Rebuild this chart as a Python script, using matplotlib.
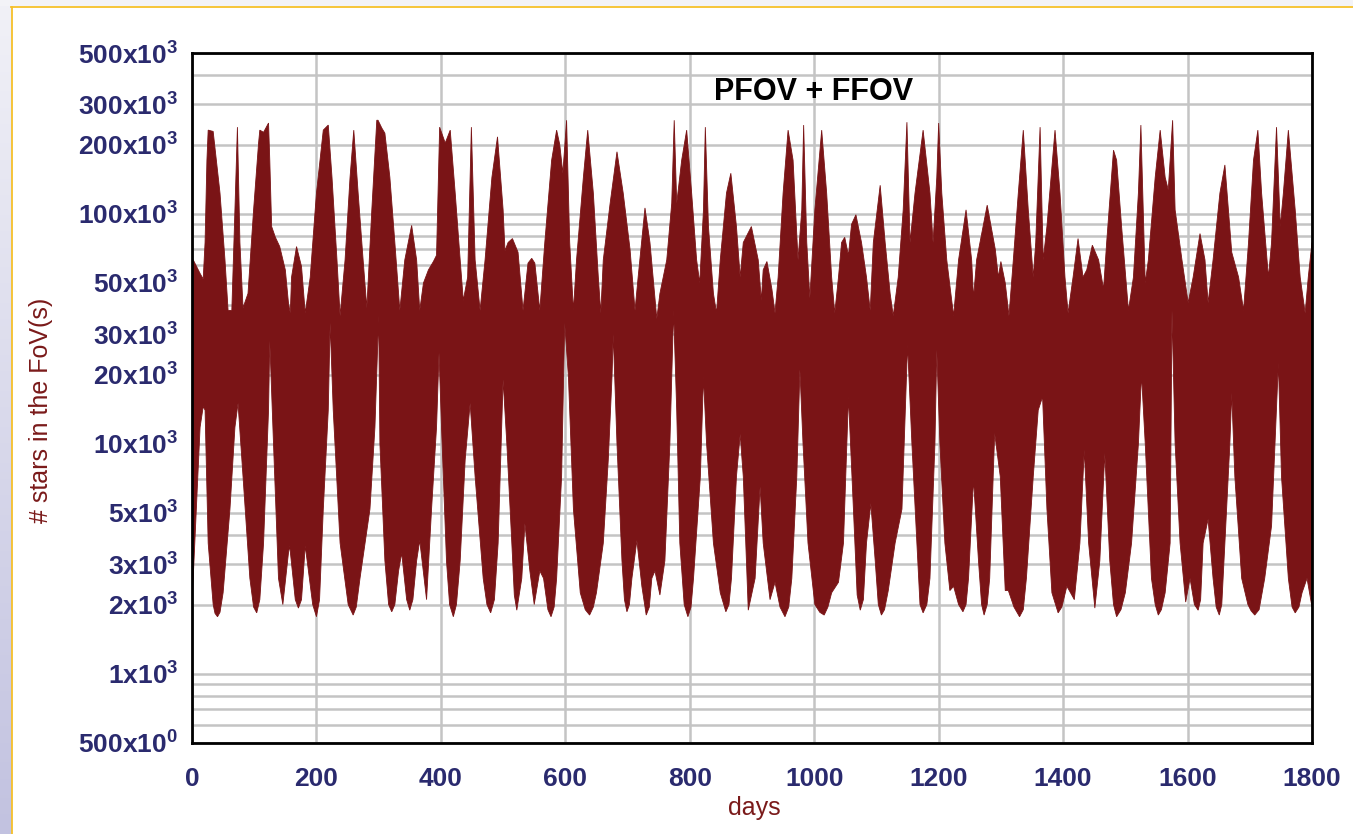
import matplotlib
matplotlib.use("Agg")
import matplotlib.pyplot as plt
import numpy as np
from matplotlib.colors import LinearSegmentedColormap
from matplotlib.patches import Rectangle
from matplotlib.lines import Line2D
from matplotlib.ticker import FixedLocator, FixedFormatter, LogLocator, NullFormatter

plt.rcParams["font.family"] = ["Liberation Sans", "DejaVu Sans"]
plt.rcParams["mathtext.fontset"] = "custom"
plt.rcParams["mathtext.rm"] = "Liberation Sans"
plt.rcParams["mathtext.bf"] = "Liberation Sans:bold"

# upper envelope of the star count (days, thousands of stars)
upper_days = [
    0, 2, 13, 18, 21, 24, 26, 34, 45, 53, 58, 64, 69, 73, 77, 82, 90, 99, 107, 109,
    115, 123, 125, 128, 134, 141, 150, 155, 158, 160, 168, 176, 182, 190, 200, 211, 219, 225, 233, 238,
    246, 254, 260, 267, 275, 281, 289, 297, 299, 305, 310, 318, 326, 334, 342, 353, 361, 366, 372, 380,
    388, 393, 398, 407, 415, 423, 431, 436, 443, 449, 455, 463, 471, 482, 491, 500, 503, 508, 515, 524,
    532, 540, 546, 551, 559, 567, 578, 586, 591, 596, 602, 607, 613, 618, 629, 636, 645, 653, 657, 661,
    672, 683, 693, 704, 712, 717, 728, 736, 747, 752, 763, 771, 775, 779, 787, 795, 803, 811, 816, 822,
    825, 830, 838, 843, 849, 859, 866, 875, 881, 886, 899, 910, 915, 918, 924, 932, 937, 942, 950, 958,
    966, 974, 980, 983, 988, 993, 1001, 1012, 1020, 1028, 1033, 1039, 1044, 1049, 1055, 1060, 1067, 1076, 1084, 1090,
    1095, 1106, 1114, 1122, 1127, 1135, 1143, 1149, 1154, 1162, 1175, 1186, 1191, 1197, 1200, 1205, 1213, 1224, 1232, 1244,
    1253, 1256, 1261, 1278, 1291, 1296, 1300, 1307, 1313, 1320, 1328, 1336, 1344, 1352, 1356, 1363, 1368, 1374, 1387, 1395,
    1403, 1408, 1416, 1424, 1432, 1438, 1447, 1457, 1465, 1470, 1481, 1486, 1494, 1505, 1513, 1521, 1525, 1532, 1537, 1548,
    1556, 1564, 1569, 1576, 1580, 1591, 1601, 1609, 1620, 1628, 1633, 1641, 1652, 1660, 1671, 1682, 1690, 1698, 1706, 1713,
    1719, 1730, 1735, 1743, 1749, 1754, 1762, 1773, 1781, 1789, 1794, 1800,
]
upper_k = [
    63, 63, 55, 52, 75, 171, 231, 228, 123, 63, 38, 38, 104, 238, 75, 39, 45, 104, 203, 231,
    226, 248, 171, 88, 79, 72, 57, 41, 37, 53, 72, 59, 37, 53, 123, 231, 243, 144, 63, 36,
    63, 144, 231, 123, 63, 39, 104, 255, 255, 236, 224, 144, 75, 38, 63, 89, 63, 38, 50, 57,
    62, 66, 238, 203, 231, 123, 63, 42, 53, 238, 63, 38, 63, 144, 216, 104, 69, 75, 78, 68,
    38, 61, 64, 61, 38, 75, 171, 231, 200, 150, 255, 75, 38, 63, 144, 231, 123, 53, 37, 63,
    111, 186, 123, 70, 38, 53, 106, 75, 35, 45, 63, 111, 255, 111, 171, 231, 123, 63, 50, 104,
    238, 88, 45, 37, 63, 123, 150, 88, 53, 75, 88, 63, 42, 57, 62, 47, 37, 53, 123, 231,
    171, 63, 104, 243, 75, 43, 104, 231, 123, 53, 37, 53, 75, 79, 66, 90, 99, 75, 53, 38,
    75, 133, 75, 45, 36, 53, 104, 250, 75, 123, 231, 123, 75, 144, 248, 123, 63, 36, 63, 104,
    63, 43, 63, 109, 70, 53, 62, 50, 36, 63, 123, 231, 104, 53, 75, 238, 63, 88, 231, 123,
    53, 37, 53, 78, 53, 57, 73, 63, 47, 75, 189, 171, 88, 38, 53, 123, 243, 50, 63, 144,
    231, 144, 127, 255, 104, 63, 41, 53, 82, 63, 41, 63, 123, 163, 68, 53, 38, 75, 171, 231,
    123, 53, 75, 238, 88, 123, 231, 104, 53, 37, 53, 75,
]

# lower envelope of the star count (days, thousands of stars)
lower_days = [
    0, 8, 13, 18, 21, 26, 34, 41, 50, 61, 69, 74, 82, 93, 104, 115, 123, 125, 131, 139,
    146, 155, 157, 171, 182, 200, 211, 219, 222, 227, 238, 251, 259, 270, 286, 294, 300, 302, 310, 321,
    332, 337, 350, 361, 366, 377, 385, 393, 397, 401, 409, 420, 431, 439, 447, 455, 468, 480, 492, 500,
    506, 514, 522, 530, 535, 543, 550, 559, 565, 577, 586, 594, 599, 605, 613, 624, 639, 650, 661, 669,
    675, 677, 683, 691, 699, 707, 715, 723, 730, 739, 744, 752, 760, 768, 774, 779, 784, 797, 806, 817,
    822, 827, 838, 849, 858, 867, 875, 881, 886, 894, 905, 913, 918, 929, 937, 953, 964, 972, 977, 982,
    990, 1001, 1016, 1028, 1039, 1047, 1055, 1063, 1074, 1084, 1091, 1098, 1108, 1119, 1130, 1141, 1150, 1157, 1165, 1175,
    1186, 1194, 1197, 1202, 1210, 1218, 1224, 1239, 1248, 1256, 1264, 1273, 1282, 1290, 1299, 1307, 1312, 1330, 1341, 1352,
    1360, 1367, 1374, 1382, 1392, 1406, 1410, 1418, 1427, 1434, 1441, 1451, 1459, 1467, 1475, 1486, 1500, 1510, 1521, 1526,
    1532, 1542, 1553, 1564, 1572, 1575, 1580, 1588, 1597, 1604, 1617, 1625, 1633, 1641, 1651, 1660, 1668, 1671, 1676, 1687,
    1708, 1724, 1735, 1746, 1751, 1762, 1773, 1784, 1792, 1800,
]
lower_k = [
    2.0, 6.0, 11.8, 14.5, 14, 3.7, 2.0, 1.77, 2.25, 5.2, 11.8, 15, 7.2, 2.6, 1.84, 3.7, 14, 28, 10, 2.6,
    2.0, 3.35, 3.6, 1.93, 3.6, 1.77, 5.2, 14, 33.5, 14, 3.7, 2.0, 1.8, 2.6, 5.2, 11.8, 36, 10, 3.1, 1.86,
    2.8, 3.35, 1.89, 3.1, 3.8, 2.1, 5.2, 11.8, 24.8, 11.8, 3.1, 1.77, 3.1, 8.5, 15, 7.2, 2.6, 1.84, 3.7, 19,
    10, 3.7, 1.89, 2.6, 4.5, 2.8, 2.0, 2.8, 2.6, 1.77, 2.6, 7.2, 33.5, 19.5, 5.2, 2.25, 1.8, 2.25, 3.7, 8.5,
    19.5, 30, 10, 3.1, 1.86, 2.6, 3.8, 2.4, 1.8, 2.6, 2.8, 2.2, 3.1, 10, 38, 14, 3.7, 1.77, 2.6, 7.2,
    19.5, 10, 3.7, 2.25, 1.86, 2.6, 7.2, 11, 7.2, 1.89, 2.6, 6.5, 3.7, 2.1, 2.5, 1.77, 2.6, 7.2, 21, 10,
    3.7, 2.0, 1.8, 2.25, 2.5, 3.7, 16, 5.2, 1.89, 3.7, 5.5, 3.1, 1.8, 2.3, 3.7, 5.2, 27, 10, 3.7, 1.84,
    2.6, 10, 25.6, 10, 3.7, 2.3, 2.4, 1.86, 2.6, 7, 3.1, 1.8, 2.6, 11.1, 7.2, 2.3, 2.3, 1.77, 2.6, 7.2,
    14, 16, 5.2, 2.25, 1.84, 2.4, 2.3, 2.1, 3.7, 9.4, 3.7, 1.93, 3.1, 9.1, 3.1, 1.77, 2.25, 3.7, 10, 20,
    10, 2.6, 1.8, 2.25, 3.7, 38, 10, 3.7, 2.05, 2.6, 1.89, 3.7, 4.7, 2.6, 1.8, 3.7, 10, 16.6, 7.2, 2.6,
    1.8, 2.6, 4.4, 22.5, 7.2, 2.6, 1.84, 2.25, 2.6, 1.95,
]

# extra readings on the rounded bottoms of the dips (days, thousands of stars)
dip_days = [
    37, 45, 99, 109, 166, 176, 194, 205, 264, 316, 326, 345, 355, 414, 425, 474, 486, 518, 572, 582,
    632, 645, 695, 703, 735, 791, 802, 863, 945, 959, 1009, 1022, 1069, 1079, 1103, 1113, 1170, 1181, 1232, 1244,
    1269, 1278, 1321, 1336, 1398, 1481, 1493, 1548, 1558, 1611, 1621, 1646, 1655, 1697, 1702, 1715, 1768, 1779,
]
dip_k = [
    1.83, 1.85, 1.95, 2.1, 2.1, 2.1, 2.0, 2.1, 1.95, 2.0, 2.0, 2.1, 2.1, 2.0, 2.0, 2.0, 2.1, 2.2, 1.9, 1.95,
    1.9, 1.95, 2.1, 2.0, 1.95, 2.0, 1.95, 2.0, 1.95, 1.95, 1.85, 1.95, 2.2, 2.1, 2.0, 1.9, 2.0, 2.0, 2.0, 2.0,
    2.0, 2.0, 1.95, 1.9, 1.95, 2.0, 1.9, 2.0, 1.9, 2.0, 2.1, 1.95, 2.0, 2.0, 1.88, 1.9, 1.95, 1.95,
]

y_ticks = [500, 1e3, 2e3, 3e3, 5e3, 10e3, 20e3, 30e3, 50e3, 100e3, 200e3, 300e3, 500e3]
y_tick_labels = [
    r"$\mathbf{500x10^0}$", r"$\mathbf{1x10^3}$", r"$\mathbf{2x10^3}$", r"$\mathbf{3x10^3}$",
    r"$\mathbf{5x10^3}$", r"$\mathbf{10x10^3}$", r"$\mathbf{20x10^3}$", r"$\mathbf{30x10^3}$",
    r"$\mathbf{50x10^3}$", r"$\mathbf{100x10^3}$", r"$\mathbf{200x10^3}$", r"$\mathbf{300x10^3}$",
    r"$\mathbf{500x10^3}$",
]
x_ticks = [0, 200, 400, 600, 800, 1000, 1200, 1400, 1600, 1800]

FILL = "#7a1416"
NAVY = "#2a2a6e"
DARK_RED = "#7a1a1a"


def main() -> None:
    fig = plt.figure(figsize=(13.53, 8.34), dpi=100)
    fig.patch.set_facecolor("white")

    # slide decoration: gray strip on top, lavender gradient on the left, yellow frame lines
    fig.patches.append(Rectangle((0, 1 - 6 / 834), 1, 6 / 834, transform=fig.transFigure,
                                 facecolor="#f3f3f7", edgecolor="none"))
    grad_ax = fig.add_axes([0, 0, 11 / 1353, 1])
    grad_ax.imshow(np.linspace(0, 1, 256).reshape(-1, 1), aspect="auto",
                   cmap=LinearSegmentedColormap.from_list("lav", ["#f1f1f7", "#c2c2e0"]),
                   extent=[0, 1, 0, 1], origin="upper")
    grad_ax.axis("off")
    fig.lines.append(Line2D([11 / 1353, 1], [1 - 6.5 / 834] * 2, transform=fig.transFigure,
                            color="#f6c02a", lw=1.3))
    fig.lines.append(Line2D([11.5 / 1353] * 2, [0, 1 - 6.5 / 834], transform=fig.transFigure,
                            color="#f6c02a", lw=1.3))

    ax = fig.add_axes([192 / 1353, 1 - 743 / 834, 1120 / 1353, 690 / 834])

    lower = sorted(zip(list(lower_days) + list(dip_days), list(lower_k) + list(dip_k)))
    lo_days = [d for d, _ in lower]
    lo_vals = [v * 1e3 for _, v in lower]
    xs = list(upper_days) + lo_days[::-1]
    ys = [v * 1e3 for v in upper_k] + lo_vals[::-1]
    ax.fill(xs, ys, color=FILL, lw=0.6, zorder=2)

    ax.set_yscale("log")
    ax.set_ylim(500, 500e3)
    ax.set_xlim(0, 1800)
    ax.yaxis.set_major_locator(FixedLocator(y_ticks))
    ax.yaxis.set_major_formatter(FixedFormatter(y_tick_labels))
    ax.yaxis.set_minor_locator(LogLocator(base=10, subs=range(1, 10), numticks=20))
    ax.yaxis.set_minor_formatter(NullFormatter())
    ax.set_xticks(x_ticks)
    ax.set_xticklabels([str(t) for t in x_ticks])

    ax.set_axisbelow(True)
    ax.grid(which="both", axis="y", color="#c4c4c4", lw=1.8)
    ax.grid(which="major", axis="x", color="#c4c4c4", lw=1.8)
    ax.tick_params(which="both", length=0)
    ax.tick_params(axis="y", pad=10, labelsize=19, labelcolor=NAVY)
    ax.tick_params(axis="x", pad=17, labelsize=19, labelcolor=NAVY)
    for lab in ax.get_xticklabels():
        lab.set_fontweight("bold")
    for spine in ax.spines.values():
        spine.set_linewidth(2)
        spine.set_color("black")

    ax.text(0.555, 0.943, "PFOV + FFOV", transform=ax.transAxes, ha="center", va="center",
            fontsize=22, fontweight="bold", color="black")

    fig.text(754 / 1353, 1 - 808 / 834, "days", ha="center", va="center", fontsize=18, color=DARK_RED)
    fig.text(41 / 1353, 1 - 410 / 834, "# stars in the FoV(s)", ha="center", va="center",
             rotation=90, fontsize=18, color=DARK_RED)

    fig.savefig("out.png", dpi=100, facecolor="white")
    plt.close(fig)


if __name__ == "__main__":
    main()
